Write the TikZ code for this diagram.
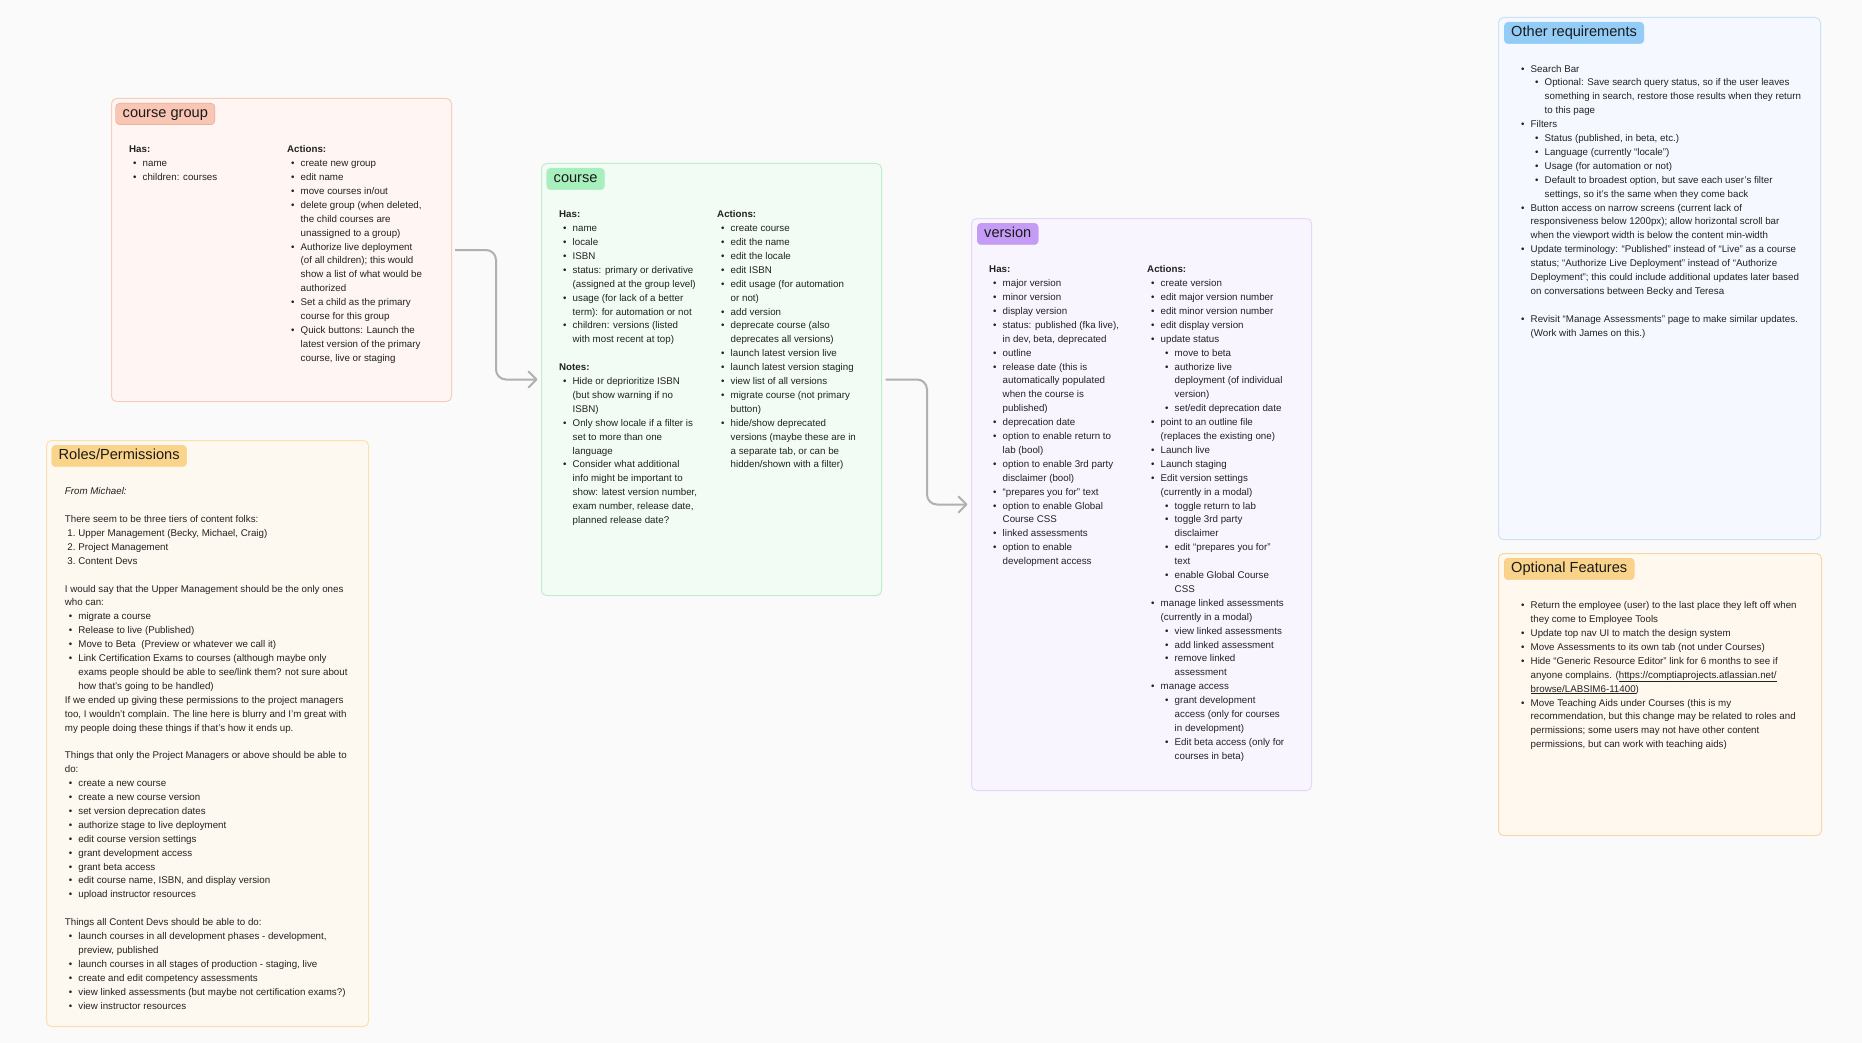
\documentclass[tikz,border=0pt]{standalone}
\usepackage{fontspec}
\setmainfont{Liberation Sans}
\usetikzlibrary{arrows.meta}
\definecolor{boardbg}{RGB}{250, 250, 250}
\definecolor{inkdark}{RGB}{26, 26, 26}
\definecolor{inktext}{RGB}{34, 34, 34}
\definecolor{linkgray}{RGB}{176, 176, 176}
\definecolor{grpfill}{RGB}{255, 246, 243}
\definecolor{grpline}{RGB}{249, 205, 190}
\definecolor{grptag}{RGB}{249, 197, 181}
\definecolor{grptagline}{RGB}{232, 162, 127}
\definecolor{rolesfill}{RGB}{254, 249, 240}
\definecolor{rolesline}{RGB}{251, 225, 174}
\definecolor{rolestag}{RGB}{250, 212, 138}
\definecolor{crsfill}{RGB}{242, 252, 245}
\definecolor{crsline}{RGB}{189, 239, 203}
\definecolor{crstag}{RGB}{168, 239, 190}
\definecolor{verfill}{RGB}{248, 245, 255}
\definecolor{verline}{RGB}{228, 215, 250}
\definecolor{vertag}{RGB}{197, 156, 245}
\definecolor{othfill}{RGB}{245, 249, 255}
\definecolor{othline}{RGB}{203, 226, 247}
\definecolor{othtag}{RGB}{147, 205, 247}
\definecolor{optfill}{RGB}{255, 248, 239}
\definecolor{optline}{RGB}{248, 215, 166}
\definecolor{opttag}{RGB}{249, 211, 138}

% list helpers
\newcommand\hd[1]{\strut\textbf{#1}}
\newcommand\bu{\hspace*{4pt}\makebox[9.5pt][l]{\textbullet}}
\newcommand\co{\hspace*{13.5pt}}
\newcommand\sbu{\hspace*{18pt}\makebox[9.5pt][l]{\textbullet}}
\newcommand\sco{\hspace*{27.5pt}}
\newcommand\numi[1]{\hspace*{2.5pt}\makebox[11pt][l]{#1}}

\begin{document}
\begin{tikzpicture}[x=1pt, y=-1pt,
  card/.style={draw, line width=1pt, rounded corners=5pt, inner sep=0pt, anchor=north west},
  cardtag/.style={rounded corners=4pt, inner xsep=7pt, inner ysep=0pt, minimum height=21.5pt,
    text height=10.5pt, text depth=2.5pt, anchor=north west, text=inkdark,
    font=\fontsize{14.6}{17}\selectfont},
  cardtext/.style={anchor=north west, inner sep=0pt, align=left, text=inktext,
    font=\fontsize{9.75}{13.9}\selectfont},
  flowarrow/.style={draw=linkgray, line width=2pt, rounded corners=10pt,
    -{Straight Barb[length=8pt, width=16pt, round]}}]

% Fondo
\fill[boardbg] (0,0) rectangle (1862,1043);

% course group
\node[card, draw=grpline, fill=grpfill, minimum width=340pt, minimum height=303pt] (grp) at (111,98) {};
\node[cardtag, draw=grptagline, fill=grptag] (grptitle) at ([shift={(4.5pt,-5pt)}]grp.north west) {course group};
\node[cardtext] (grphas) at (129,142.8) {\hd{Has:}\\
\bu name\\
\bu children: courses};
\node[cardtext] (grpact) at (287,142.8) {\hd{Actions:}\\
\bu create new group\\
\bu edit name\\
\bu move courses in/out\\
\bu delete group (when deleted,\\
\co the child courses are\\
\co unassigned to a group)\\
\bu Authorize live deployment\\
\co (of all children); this would\\
\co show a list of what would be\\
\co authorized\\
\bu Set a child as the primary\\
\co course for this group\\
\bu Quick buttons: Launch the\\
\co latest version of the primary\\
\co course, live or staging};

% Roles/Permissions
\node[card, draw=rolesline, fill=rolesfill, minimum width=322pt, minimum height=586pt] (roles) at (46,440) {};
\node[cardtag, draw=rolestag, fill=rolestag] (rolestitle) at ([shift={(5.5pt,-5pt)}]roles.north west) {Roles/Permissions};
\node[cardtext] (rolestxt) at (64.7,484.8) {\strut\textit{From Michael:}\\[13.9pt]
There seem to be three tiers of content folks:\\
\numi{1.}Upper Management (Becky, Michael, Craig)\\
\numi{2.}Project Management\\
\numi{3.}Content Devs\\[13.9pt]
I would say that the Upper Management should be the only ones\\
who can:\\
\bu migrate a course\\
\bu Release to live (Published)\\
\bu Move to Beta~ (Preview or whatever we call it)\\
\bu Link Certification Exams to courses (although maybe only\\
\co exams people should be able to see/link them? not sure about\\
\co how that's going to be handled)\\
If we ended up giving these permissions to the project managers\\
too, I wouldn't complain. The line here is blurry and I'm great with\\
my people doing these things if that's how it ends up.\\[13.9pt]
Things that only the Project Managers or above should be able to\\
do:\\
\bu create a new course\\
\bu create a new course version\\
\bu set version deprecation dates\\
\bu authorize stage to live deployment\\
\bu edit course version settings\\
\bu grant development access\\
\bu grant beta access\\
\bu edit course name, ISBN, and display version\\
\bu upload instructor resources\\[13.9pt]
Things all Content Devs should be able to do:\\
\bu launch courses in all development phases - development,\\
\co preview, published\\
\bu launch courses in all stages of production - staging, live\\
\bu create and edit competency assessments\\
\bu view linked assessments (but maybe not certification exams?)\\
\bu view instructor resources};

% course
\node[card, draw=crsline, fill=crsfill, minimum width=340pt, minimum height=432pt] (crs) at (541,163) {};
\node[cardtag, draw=crstag, fill=crstag] (crstitle) at ([shift={(5.5pt,-5pt)}]crs.north west) {course};
\node[cardtext] (crshas) at (559,207.8) {\hd{Has:}\\
\bu name\\
\bu locale\\
\bu ISBN\\
\bu status: primary or derivative\\
\co (assigned at the group level)\\
\bu usage (for lack of a better\\
\co term): for automation or not\\
\bu children: versions (listed\\
\co with most recent at top)\\[13.9pt]
\textbf{Notes:}\\
\bu Hide or deprioritize ISBN\\
\co (but show warning if no\\
\co ISBN)\\
\bu Only show locale if a filter is\\
\co set to more than one\\
\co language\\
\bu Consider what additional\\
\co info might be important to\\
\co show: latest version number,\\
\co exam number, release date,\\
\co planned release date?};
\node[cardtext] (crsact) at (717,207.8) {\hd{Actions:}\\
\bu create course\\
\bu edit the name\\
\bu edit the locale\\
\bu edit ISBN\\
\bu edit usage (for automation\\
\co or not)\\
\bu add version\\
\bu deprecate course (also\\
\co deprecates all versions)\\
\bu launch latest version live\\
\bu launch latest version staging\\
\bu view list of all versions\\
\bu migrate course (not primary\\
\co button)\\
\bu hide/show deprecated\\
\co versions (maybe these are in\\
\co a separate tab, or can be\\
\co hidden/shown with a filter)};

% version
\node[card, draw=verline, fill=verfill, minimum width=340pt, minimum height=572pt] (ver) at (971,218) {};
\node[cardtag, draw=vertag, fill=vertag] (vertitle) at ([shift={(6pt,-5pt)}]ver.north west) {version};
\node[cardtext] (verhas) at (989,262.8) {\hd{Has:}\\
\bu major version\\
\bu minor version\\
\bu display version\\
\bu status: published (fka live),\\
\co in dev, beta, deprecated\\
\bu outline\\
\bu release date (this is\\
\co automatically populated\\
\co when the course is\\
\co published)\\
\bu deprecation date\\
\bu option to enable return to\\
\co lab (bool)\\
\bu option to enable 3rd party\\
\co disclaimer (bool)\\
\bu “prepares you for” text\\
\bu option to enable Global\\
\co Course CSS\\
\bu linked assessments\\
\bu option to enable\\
\co development access};
\node[cardtext] (veract) at (1147,262.8) {\hd{Actions:}\\
\bu create version\\
\bu edit major version number\\
\bu edit minor version number\\
\bu edit display version\\
\bu update status\\
\sbu move to beta\\
\sbu authorize live\\
\sco deployment (of individual\\
\sco version)\\
\sbu set/edit deprecation date\\
\bu point to an outline file\\
\co (replaces the existing one)\\
\bu Launch live\\
\bu Launch staging\\
\bu Edit version settings\\
\co (currently in a modal)\\
\sbu toggle return to lab\\
\sbu toggle 3rd party\\
\sco disclaimer\\
\sbu edit “prepares you for”\\
\sco text\\
\sbu enable Global Course\\
\sco CSS\\
\bu manage linked assessments\\
\co (currently in a modal)\\
\sbu view linked assessments\\
\sbu add linked assessment\\
\sbu remove linked\\
\sco assessment\\
\bu manage access\\
\sbu grant development\\
\sco access (only for courses\\
\sco in development)\\
\sbu Edit beta access (only for\\
\sco courses in beta)};

% Other requirements
\node[card, draw=othline, fill=othfill, minimum width=322pt, minimum height=522pt] (oth) at (1498,17) {};
\node[cardtag, draw=othtag, fill=othtag] (othtitle) at ([shift={(6pt,-5pt)}]oth.north west) {Other requirements};
\node[cardtext] (othtxt) at (1517,62.1) {\strut\bu Search Bar\\
\sbu Optional: Save search query status, so if the user leaves\\
\sco something in search, restore those results when they return\\
\sco to this page\\
\bu Filters\\
\sbu Status (published, in beta, etc.)\\
\sbu Language (currently “locale”)\\
\sbu Usage (for automation or not)\\
\sbu Default to broadest option, but save each user's filter\\
\sco settings, so it's the same when they come back\\
\bu Button access on narrow screens (current lack of\\
\co responsiveness below 1200px); allow horizontal scroll bar\\
\co when the viewport width is below the content min-width\\
\bu Update terminology: “Published” instead of “Live” as a course\\
\co status; “Authorize Live Deployment” instead of “Authorize\\
\co Deployment”; this could include additional updates later based\\
\co on conversations between Becky and Teresa\\[13.9pt]
\bu Revisit “Manage Assessments” page to make similar updates.\\
\co (Work with James on this.)};

% Optional Features
\node[card, draw=optline, fill=optfill, minimum width=323pt, minimum height=282pt] (opt) at (1498,553) {};
\node[cardtag, draw=opttag!85!orange, fill=opttag] (opttitle) at ([shift={(6pt,-5pt)}]opt.north west) {Optional Features};
\node[cardtext] (opttxt) at (1517,598.8) {\strut\bu Return the employee (user) to the last place they left off when\\
\co they come to Employee Tools\\
\bu Update top nav UI to match the design system\\
\bu Move Assessments to its own tab (not under Courses)\\
\bu Hide “Generic Resource Editor” link for 6 months to see if\\
\co anyone complains. (\underline{https://comptiaprojects.atlassian.net/}\\
\co \underline{browse/LABSIM6-11400})\\
\bu Move Teaching Aids under Courses (this is my\\
\co recommendation, but this change may be related to roles and\\
\co permissions; some users may not have other content\\
\co permissions, but can work with teaching aids)};

% Flechas entre entidades
\draw[flowarrow] ([xshift=3pt]grp.east) -| ([xshift=-45pt]crs.west) -- ([xshift=-3.5pt]crs.west);
\draw[flowarrow] ([xshift=3.5pt]crs.east) -| ([xshift=-44pt]ver.west) -- ([xshift=-3.5pt]ver.west);

\end{tikzpicture}
\end{document}
